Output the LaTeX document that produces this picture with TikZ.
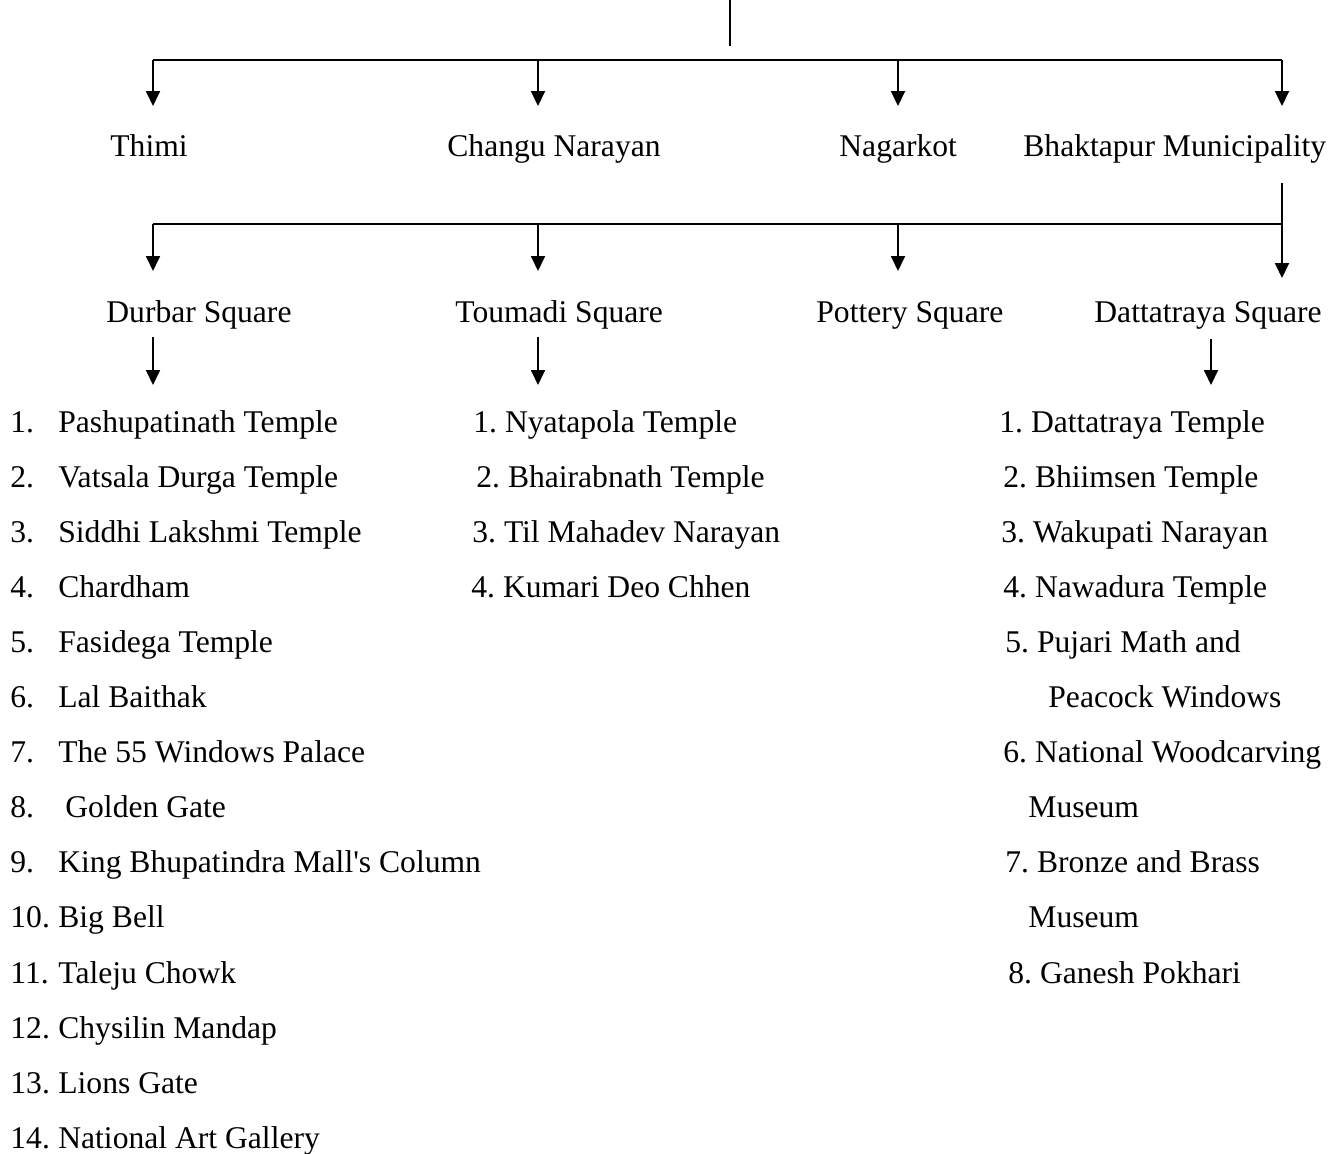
\documentclass[tikz,border=0pt]{standalone}
\usepackage{fontspec}
\setmainfont{Liberation Serif}
\usetikzlibrary{arrows.meta}
\frenchspacing
\begin{document}
\begin{tikzpicture}[x={(0.5pt,0)}, y={(0,-0.5pt)},
  lbl/.style={anchor=base west, inner sep=0pt, font=\fontsize{15.8}{19}\selectfont\frenchspacing},
  conn/.style={line width=0.9pt},
  arr/.style={line width=0.9pt, -{Triangle[width=7pt,length=7.5pt]}}]
\useasboundingbox (0,0) rectangle (1340,1153);
\newcommand{\nb}[2][24pt]{\makebox[#1][l]{#2}}

% ---- level 1 ----
\coordinate (t0) at (730,0);
\coordinate (t1) at (730,46);
\coordinate (b1) at (153,60);
\coordinate (b2) at (538,60);
\coordinate (b3) at (898,60);
\coordinate (b4) at (1282,60);
\coordinate (e1) at (153,106);
\coordinate (e2) at (538,106);
\coordinate (e3) at (898,106);
\coordinate (e4) at (1282,106);
\draw[conn] (t0) -- (t1);
\draw[conn] (b1) -- (b4);
\draw[arr] (b1) -- (e1);
\draw[arr] (b2) -- (e2);
\draw[arr] (b3) -- (e3);
\draw[arr] (b4) -- (e4);

\node[lbl] (thimi) at (110,156) {Thimi};
\node[lbl] (changu) at (447,156) {Changu Narayan};
\node[lbl] (nagarkot) at (839,156) {Nagarkot};
\node[lbl] (bhaktapur) at (1023,156) {Bhaktapur Municipality};

% ---- level 2 ----
\coordinate (m0) at (1282,183);
\coordinate (c1) at (153,224);
\coordinate (c2) at (538,224);
\coordinate (c3) at (898,224);
\coordinate (c4) at (1282,224);
\coordinate (f1) at (153,271);
\coordinate (f2) at (538,271);
\coordinate (f3) at (898,271);
\coordinate (f4) at (1282,278);
\draw[conn] (m0) -- (c4);
\draw[conn] (c1) -- (c4);
\draw[arr] (c1) -- (f1);
\draw[arr] (c2) -- (f2);
\draw[arr] (c3) -- (f3);
\draw[arr] (c4) -- (f4);

\node[lbl] (durbar) at (106,322) {Durbar Square};
\node[lbl] (toumadi) at (455,322) {Toumadi Square};
\node[lbl] (pottery) at (816,322) {Pottery Square};
\node[lbl] (datta) at (1094,322) {Dattatraya Square};

% ---- level 3 arrows ----
\coordinate (g1s) at (153,337);
\coordinate (g1e) at (153,385);
\coordinate (g2s) at (538,337);
\coordinate (g2e) at (538,385);
\coordinate (g4s) at (1211,339);
\coordinate (g4e) at (1211,385);
\draw[arr] (g1s) -- (g1e);
\draw[arr] (g2s) -- (g2e);
\draw[arr] (g4s) -- (g4e);

% ---- Durbar Square list ----
\node[lbl] (l1)  at (10,432)    {\nb{1.}Pashupatinath Temple};
\node[lbl] (l2)  at (10,487.1)  {\nb{2.}Vatsala Durga Temple};
\node[lbl] (l3)  at (10,542.2)  {\nb{3.}Siddhi Lakshmi Temple};
\node[lbl] (l4)  at (10,597.3)  {\nb{4.}Chardham};
\node[lbl] (l5)  at (10,652.4)  {\nb{5.}Fasidega Temple};
\node[lbl] (l6)  at (10,707.5)  {\nb{6.}Lal Baithak};
\node[lbl] (l7)  at (10,762.6)  {\nb{7.}The 55 Windows Palace};
\node[lbl] (l8)  at (10,817.7)  {\nb[27.5pt]{8.}Golden Gate};
\node[lbl] (l9)  at (10,872.8)  {\nb{9.}King Bhupatindra Mall\textquotesingle s Column};
\node[lbl] (l10) at (10,927.9)  {\nb{10.}Big Bell};
\node[lbl] (l11) at (10,983.0)  {\nb{11.}Taleju Chowk};
\node[lbl] (l12) at (10,1038.1) {\nb{12.}Chysilin Mandap};
\node[lbl] (l13) at (10,1093.2) {\nb{13.}Lions Gate};
\node[lbl] (l14) at (10,1148.3) {\nb{14.}National Art Gallery};

% ---- Toumadi Square list ----
\node[lbl] (m1) at (473,432)   {1. Nyatapola Temple};
\node[lbl] (m2) at (476,487.1) {2. Bhairabnath Temple};
\node[lbl] (m3) at (472,542.2) {3. Til Mahadev Narayan};
\node[lbl] (m4) at (471,597.3) {4. Kumari Deo Chhen};

% ---- Dattatraya Square list ----
\node[lbl] (r1)  at (999,432)    {1. Dattatraya Temple};
\node[lbl] (r2)  at (1003,487.1) {2. Bhiimsen Temple};
\node[lbl] (r3)  at (1001,542.2) {3. Wakupati Narayan};
\node[lbl] (r4)  at (1003,597.3) {4. Nawadura Temple};
\node[lbl] (r5)  at (1005,652.4) {5. Pujari Math and};
\node[lbl] (r5b) at (1048,707.5) {Peacock Windows};
\node[lbl] (r6)  at (1003,762.6) {6. National Woodcarving};
\node[lbl] (r6b) at (1028,817.7) {Museum};
\node[lbl] (r7)  at (1005,872.8) {7. Bronze and Brass};
\node[lbl] (r7b) at (1028,927.9) {Museum};
\node[lbl] (r8)  at (1008,983.0) {8. Ganesh Pokhari};
\end{tikzpicture}
\end{document}
